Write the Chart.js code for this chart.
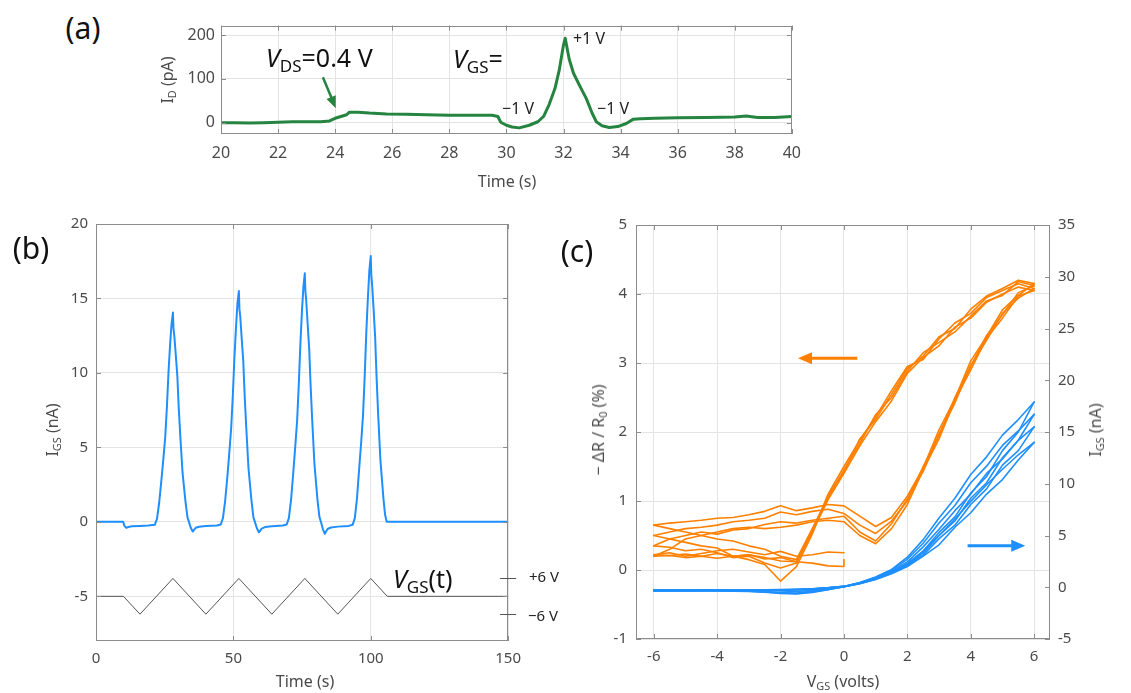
<!DOCTYPE html>
<html><head><meta charset="utf-8">
<script src="https://cdn.jsdelivr.net/npm/chart.js@4.4.1/dist/chart.umd.min.js"></script>
<style>
html,body{margin:0;padding:0;background:#fff;}
body{width:1131px;height:693px;position:relative;overflow:hidden;font-family:"Noto Sans",sans-serif;}
canvas{position:absolute;}
.t{position:absolute;white-space:nowrap;line-height:1;color:#4a4a4a;font-size:16px;}
.c{transform:translate(-50%,-50%);}
.l{transform:translate(0,-50%);}
.r{transform:translate(-50%,-50%) rotate(-90deg);}
sub{font-size:0.68em;vertical-align:-0.32em;line-height:0;}
.big{font-size:30px;color:#111;}
.ann{font-size:25px;color:#111;}
.small{font-size:16px;color:#222;}
</style></head><body>
<canvas id="ca" width="650" height="160" style="left:161px;top:10px"></canvas>
<canvas id="cb" width="484" height="470" style="left:46px;top:207px"></canvas>
<canvas id="cc" width="510" height="470" style="left:586px;top:207px"></canvas>

<div class="t big c" style="left:83px;top:28px">(a)</div>
<div class="t big c" style="left:31px;top:248px">(b)</div>
<div class="t big c" style="left:577px;top:251px">(c)</div>

<div class="t c" style="left:507px;top:181px">Time (s)</div>
<div class="t r" style="left:167px;top:80px">I<sub>D</sub> (pA)</div>
<div class="t ann l" style="left:266px;top:57px"><i>V</i><sub>DS</sub>=0.4 V</div>
<div class="t ann l" style="left:453px;top:58px"><i>V</i><sub>GS</sub>=</div>
<div class="t small l" style="left:573px;top:38px">+1 V</div>
<div class="t small l" style="left:502px;top:108px">−1 V</div>
<div class="t small l" style="left:597px;top:108px">−1 V</div>

<div class="t c" style="left:305px;top:681px">Time (s)</div>
<div class="t r" style="left:52px;top:430px">I<sub>GS</sub> (nA)</div>
<div class="t ann l" style="left:393px;top:578px"><i>V</i><sub>GS</sub>(t)</div>
<div class="t l" style="left:529px;top:576px;color:#222;font-size:15px">+6 V</div>
<div class="t l" style="left:528px;top:615px;color:#222;font-size:15px">−6 V</div>

<div class="t c" style="left:843px;top:681px">V<sub>GS</sub> (volts)</div>
<div class="t r" style="left:598px;top:430px">− ΔR / R<sub>0</sub> (%)</div>
<div class="t r" style="left:1095px;top:430px">I<sub>GS</sub> (nA)</div>

<script>
// ---------- Panel (a) data ----------
const tA = [20,20.5,21,21.5,22,22.5,23,23.5,23.8,24.0,24.2,24.4,24.5,24.8,25.2,25.8,26.5,27.2,28,28.8,
            29.5,29.7,29.8,30.0,30.2,30.45,30.8,31.1,31.3,31.5,31.7,31.85,32.0,32.06,32.2,32.35,32.6,32.8,33.0,33.15,
            33.35,33.6,33.9,34.2,34.45,34.7,35.2,36,37,38,38.4,38.8,39.4,40];
const iA = [0,0,-1,0,1,2,2,2,4,10,14,18,24,24,22,20,19,18,17,17,
            17,14,1,-6,-10,-12,-6,2,14,42,78,120,178,193,145,113,80,55,22,2,
            -7,-11,-9,-2,8,9,10,11,12,13,15,12,12,14];
const xTicksA = [20,22,24,26,28,30,32,34,36,38,40];
const yTicksA = [0,100,200];

// ---------- Panel (b) data ----------
const tB = [0,9.9,10.3,11,11.8,13,16,19,
  21.4,22.2,23,23.8,24.5,25.2,25.8,26.4,27,27.5,28,28.2,28.5,29,29.6,30.1,30.7,31.5,32.6,33.3,34,34.5,35.2,35.6,36.3,37.5,40,44,
  45.4,46.2,47,47.8,48.5,49.2,49.8,50.4,51,51.5,52,52.2,52.5,53,53.6,54.1,54.7,55.5,56.6,57.3,58,58.6,59.3,59.7,60.3,61.5,64,68,
  69.4,70.2,71,71.8,72.5,73.2,73.8,74.4,75,75.5,76,76.2,76.5,77,77.6,78.1,78.7,79.5,80.6,81.3,82,82.6,83.3,83.7,84.3,85.5,88,92,
  93.4,94.2,95,95.8,96.5,97.2,97.8,98.4,99,99.5,100,100.2,100.5,101,101.6,102.1,102.7,103.5,104.6,105.2,105.8,150];
const iB = [0,0,-0.25,-0.4,-0.35,-0.3,-0.28,-0.25,
  -0.2,0.2,1.3,2.8,4.2,5.7,7.7,10.1,12.0,13.3,14.05,13.0,12.5,11.3,9.8,7.7,5.7,3.3,1.3,0.3,-0.1,-0.4,-0.65,-0.55,-0.4,-0.33,-0.28,-0.24,
  -0.18,0.25,1.4,3.0,4.6,6.3,8.5,11.1,13.2,14.7,15.5,14.3,13.8,12.4,10.8,8.5,6.3,3.6,1.4,0.3,-0.1,-0.45,-0.7,-0.6,-0.45,-0.35,-0.3,-0.25,
  -0.18,0.25,1.5,3.3,5.0,6.8,9.2,12.0,14.3,15.8,16.7,15.5,14.9,13.4,11.6,9.2,6.8,3.9,1.5,0.35,-0.1,-0.5,-0.8,-0.65,-0.48,-0.38,-0.32,-0.27,
  -0.2,0.25,1.6,3.6,5.3,7.2,9.8,12.8,15.2,16.9,17.85,16.6,15.9,14.4,12.4,9.8,7.2,4.2,1.6,0.5,0,0];
const tVgs = [0,10,16,28,40,52,64,76,88,100,106,150];
const vgsB = [-5,-5,-6.2,-3.8,-6.2,-3.8,-6.2,-3.8,-6.2,-3.8,-5,-5];
const vgsMarks = [-3.8,-6.2];
const xTicksB = [0,50,100,150];
const yTicksB = [-5,0,5,10,15,20];

// ---------- Panel (c) data ----------
const vUp    = [-6,-5.5,-5,-4.5,-4,-3.5,-3,-2.5,-2,-1.5,-1,-0.5,0,0.5,1,1.5,2,2.5,3,3.5,4,4.5,5,5.5,6];
const vDn    = [6,5.5,5,4.5,4,3.5,3,2.5,2,1.5,1,0.5,0,-0.5,-1,-1.5,-2,-2.5,-3,-3.5,-4,-4.5,-5,-5.5,-6];
const vUpNeg = [-6,-5.5,-5,-4.5,-4,-3.5,-3,-2.5,-2,-1.5,-1,-0.5,0];
const vDnNeg = [0,-0.5,-1,-1.5,-2,-2.5,-3,-3.5,-4,-4.5,-5,-5.5,-6];
const vDnPos = [6,5.5,5,4.5,4,3.5,3,2.5,2,1.5,1,0.5,0];
const vStartO = [0,0,-0.5,-1,-1.5,-2,-2.5,-3,-3.5,-4,-4.5,-5,-5.5,-6];

const oStart = [0.15,0.05,0.06,0.1,0.12,0.18,0.16,0.22,0.2,0.17,0.2,0.18,0.21,0.2];
const oUp1 = [0.2,0.3,0.45,0.5,0.55,0.6,0.62,0.6,0.62,0.65,0.7,0.72,0.7,0.5,0.38,0.6,0.95,1.45,1.9,2.46,2.9,3.36,3.65,3.97,4.05];
const oDn1 = [4.05,4.1,4.0,3.88,3.65,3.52,3.25,3.08,2.85,2.45,2.15,1.8,1.4,1.02,0.55,0.1,0.03,0.1,0.2,0.18,0.25,0.3,0.28,0.33,0.35];
const oUp2 = [0.35,0.45,0.5,0.55,0.52,0.58,0.6,0.66,0.7,0.68,0.72,0.75,0.78,0.55,0.42,0.67,1.03,1.43,1.97,2.42,2.97,3.33,3.72,3.94,4.08];
const oDn2 = [4.08,4.15,4.05,3.95,3.72,3.58,3.35,3.05,2.95,2.6,2.22,1.88,1.5,1.1,0.52,0.05,-0.16,0.08,0.15,0.2,0.32,0.35,0.4,0.45,0.5];
const oUp3 = [0.5,0.55,0.6,0.62,0.65,0.7,0.72,0.75,0.84,0.8,0.85,0.88,0.82,0.65,0.53,0.71,1.0,1.5,1.95,2.5,2.95,3.4,3.7,4.02,4.12];
const oDn3 = [4.12,4.18,3.98,3.9,3.68,3.45,3.3,3.15,2.88,2.5,2.25,1.83,1.45,1.05,0.6,0.15,0.2,0.3,0.35,0.42,0.45,0.5,0.55,0.6,0.65];
const oUp4 = [0.65,0.68,0.7,0.72,0.75,0.76,0.8,0.85,0.93,0.86,0.9,0.95,0.93,0.78,0.63,0.76,1.07,1.48,2.03,2.48,3.03,3.38,3.77,3.98,4.15];
const oDn4 = [4.15,4.2,4.08,3.97,3.78,3.5,3.38,3.1,2.92,2.55,2.18,1.9,1.42,1.08,0.58,0.12,0.13,0.18,0.22,0.2,0.24,0.2,0.23,0.21,0.22];
const oUp5 = [0.22,0.25,0.2,0.24,0.28,0.3,0.26,0.22,0.27,0.2,0.22,0.26,0.25];

const bStart = [0.05,-0.15,-0.3,-0.4,-0.35,-0.3,-0.28,-0.27,-0.27,-0.26,-0.26,-0.26,-0.26];
const bUp1 = [-0.26,-0.26,-0.26,-0.26,-0.25,-0.25,-0.24,-0.24,-0.22,-0.2,-0.15,-0.05,0.08,0.4,0.85,1.5,2.2,3.5,5.0,6.6,8.3,9.9,11.4,12.8,14.0];
const bDn1 = [14.0,12.3,10.4,9.0,7.2,5.8,4.1,3.0,2.0,1.3,0.75,0.35,0.05,-0.2,-0.4,-0.55,-0.5,-0.42,-0.36,-0.33,-0.31,-0.3,-0.3,-0.3,-0.3];
const bUp2 = [-0.3,-0.3,-0.29,-0.28,-0.28,-0.27,-0.27,-0.26,-0.25,-0.22,-0.16,-0.05,0.08,0.42,0.9,1.6,2.45,3.9,5.6,7.4,9.0,11.0,12.4,14.2,15.5];
const bDn2 = [15.5,13.2,11.8,9.5,8.0,6.0,4.7,3.1,2.1,1.35,0.78,0.36,0.05,-0.22,-0.45,-0.6,-0.55,-0.45,-0.38,-0.35,-0.33,-0.32,-0.32,-0.32,-0.32];
const bUp3 = [-0.32,-0.32,-0.31,-0.3,-0.3,-0.29,-0.28,-0.27,-0.26,-0.23,-0.17,-0.05,0.08,0.44,0.95,1.7,2.7,4.25,6.2,7.9,10.1,11.7,13.7,15.1,16.7];
const bDn3 = [16.7,14.2,12.5,10.1,8.6,6.4,5.0,3.3,2.2,1.4,0.8,0.37,0.05,-0.24,-0.5,-0.65,-0.6,-0.48,-0.4,-0.37,-0.36,-0.35,-0.35,-0.35,-0.35];
const bUp4 = [-0.35,-0.34,-0.33,-0.33,-0.32,-0.31,-0.3,-0.29,-0.27,-0.24,-0.17,-0.05,0.08,0.46,1.0,1.7,2.9,4.6,6.7,8.6,10.9,12.6,14.7,16.2,17.9];
const bEnd = [17.9,15.0,13.2,10.7,9.1,6.8,5.3,3.5,2.3,1.45,0.82,0.38,0.05];

const xTicksC = [-6,-4,-2,0,2,4,6];
const yTicksC = [-1,0,1,2,3,4,5];
const y2TicksC = [-5,0,5,10,15,20,25,30,35];

// ---------- helpers ----------
Chart.defaults.font.family = '"Noto Sans", sans-serif';
Chart.defaults.font.size = 15;
Chart.defaults.color = '#4a4a4a';

const GREEN = '#25843f', BLUE = '#1e8fff', ORANGE = '#ff8000';

function xy(xs, ys) { return xs.map((x, i) => ({ x: x, y: ys[i] })); }
function line(xs, ys, color, w, axis) {
  const d = { data: xy(xs, ys), showLine: true, borderColor: color, backgroundColor: color,
    borderWidth: w, pointRadius: 0, tension: 0, borderJoinStyle: 'round', borderCapStyle: 'round' };
  if (axis) d.yAxisID = axis;
  return d;
}
function axis(o) {
  const horiz = (o.pos === 'bottom' || o.pos === 'top');
  return {
    type: 'linear', position: o.pos, min: o.min, max: o.max,
    afterBuildTicks: s => { s.ticks = o.ticks.map(v => ({ value: v })); },
    afterFit: s => { if (horiz) s.height = o.size; else s.width = o.size; },
    grid: { display: o.grid !== false, color: '#e4e4e4', lineWidth: 1, drawTicks: false },
    border: { display: false },
    ticks: { padding: o.pad, color: '#4a4a4a', font: { size: o.font || 15 }, maxRotation: 0, autoSkip: false }
  };
}

const framePlugin = {
  id: 'frame',
  afterDraw(chart) {
    const ctx = chart.ctx, a = chart.chartArea, scales = chart.scales;
    const dual = !!scales.y2;
    ctx.save();
    ctx.strokeStyle = '#8c8c8c'; ctx.lineWidth = 1;
    ctx.beginPath();
    const L = 5;
    for (const id of Object.keys(scales)) {
      const s = scales[id];
      for (const t of s.ticks) {
        const p = Math.round(s.getPixelForValue(t.value)) + 0.5;
        if (s.isHorizontal()) {
          ctx.moveTo(p, a.bottom); ctx.lineTo(p, a.bottom - L);
          ctx.moveTo(p, a.top); ctx.lineTo(p, a.top + L);
        } else if (s.position === 'right') {
          ctx.moveTo(a.right, p); ctx.lineTo(a.right - L, p);
        } else {
          ctx.moveTo(a.left, p); ctx.lineTo(a.left + L, p);
          if (!dual) { ctx.moveTo(a.right, p); ctx.lineTo(a.right - L, p); }
        }
      }
    }
    ctx.stroke();
    ctx.strokeRect(Math.round(a.left) + 0.5, Math.round(a.top) + 0.5,
      Math.round(a.right - a.left) - 1, Math.round(a.bottom - a.top) - 1);
    ctx.restore();
  }
};

const arrowPlugin = {
  id: 'arrows',
  afterDatasetsDraw(chart, args, opts) {
    const items = (opts && opts.items) || [];
    const ctx = chart.ctx;
    for (const a of items) {
      const xs = chart.scales.x, ys = chart.scales[a.axis || 'y'];
      const x1 = xs.getPixelForValue(a.x1), y1 = ys.getPixelForValue(a.y1);
      const x2 = xs.getPixelForValue(a.x2), y2 = ys.getPixelForValue(a.y2);
      const ang = Math.atan2(y2 - y1, x2 - x1);
      const hl = a.head, hw = a.headW;
      const c = Math.cos(ang), s = Math.sin(ang);
      ctx.save();
      ctx.strokeStyle = a.color; ctx.fillStyle = a.color; ctx.lineWidth = a.width;
      ctx.beginPath(); ctx.moveTo(x1, y1); ctx.lineTo(x2 - c * hl * 0.8, y2 - s * hl * 0.8); ctx.stroke();
      ctx.beginPath(); ctx.moveTo(x2, y2);
      ctx.lineTo(x2 - c * hl + s * hw, y2 - s * hl - c * hw);
      ctx.lineTo(x2 - c * hl - s * hw, y2 - s * hl + c * hw);
      ctx.closePath(); ctx.fill();
      ctx.restore();
    }
  }
};

const marksPlugin = {
  id: 'marks',
  afterDraw(chart, args, opts) {
    const vals = (opts && opts.values) || [];
    if (!vals.length) return;
    const ctx = chart.ctx, a = chart.chartArea, ys = chart.scales.y;
    ctx.save(); ctx.strokeStyle = '#555'; ctx.lineWidth = 1;
    ctx.beginPath();
    for (const v of vals) {
      const p = Math.round(ys.getPixelForValue(v)) + 0.5;
      ctx.moveTo(a.right - 8, p); ctx.lineTo(a.right + 8, p);
    }
    ctx.stroke(); ctx.restore();
  }
};

const common = {
  responsive: false, animation: false, devicePixelRatio: 1,
  plugins: { legend: { display: false }, tooltip: { enabled: false } },
  events: []
};

// ---------- Panel (a) ----------
new Chart(document.getElementById('ca'), {
  type: 'scatter',
  data: { datasets: [ line(tA, iA, GREEN, 3) ] },
  options: Object.assign({}, common, {
    layout: { padding: { top: 10, right: 14, left: 0, bottom: 0 } },
    scales: {
      x: axis({ pos: 'bottom', min: 20, max: 40, ticks: xTicksA, size: 36, pad: 10, font: 16 }),
      y: axis({ pos: 'left', min: -26, max: 222, ticks: yTicksA, size: 60, pad: 6, font: 16 })
    },
    plugins: Object.assign({}, common.plugins, {
      arrows: { items: [ { x1: 23.57, y1: 104, x2: 24.02, y2: 33, color: GREEN, width: 2.5, head: 12, headW: 5 } ] }
    })
  }),
  plugins: [framePlugin, arrowPlugin]
});

// ---------- Panel (b) ----------
new Chart(document.getElementById('cb'), {
  type: 'scatter',
  data: { datasets: [
    line(tVgs, vgsB, '#555555', 1),
    line(tB, iB, BLUE, 2)
  ] },
  options: Object.assign({}, common, {
    layout: { padding: { top: 10, right: 15, left: 0, bottom: 0 } },
    scales: {
      x: axis({ pos: 'bottom', min: 0, max: 150, ticks: xTicksB, size: 36, pad: 9 }),
      y: axis({ pos: 'left', min: -8, max: 20, ticks: yTicksB, size: 50, pad: 8 })
    },
    plugins: Object.assign({}, common.plugins, { marks: { values: vgsMarks } })
  }),
  plugins: [framePlugin, marksPlugin]
});

// ---------- Panel (c) ----------
new Chart(document.getElementById('cc'), {
  type: 'scatter',
  data: { datasets: [
    line(vDnNeg, bStart, BLUE, 1.6, 'y2'),
    line(vUp, bUp1, BLUE, 1.6, 'y2'), line(vDn, bDn1, BLUE, 1.6, 'y2'),
    line(vUp, bUp2, BLUE, 1.6, 'y2'), line(vDn, bDn2, BLUE, 1.6, 'y2'),
    line(vUp, bUp3, BLUE, 1.6, 'y2'), line(vDn, bDn3, BLUE, 1.6, 'y2'),
    line(vUp, bUp4, BLUE, 1.6, 'y2'), line(vDnPos, bEnd, BLUE, 1.6, 'y2'),
    line(vStartO, oStart, ORANGE, 1.6, 'y'),
    line(vUp, oUp1, ORANGE, 1.6, 'y'), line(vDn, oDn1, ORANGE, 1.6, 'y'),
    line(vUp, oUp2, ORANGE, 1.6, 'y'), line(vDn, oDn2, ORANGE, 1.6, 'y'),
    line(vUp, oUp3, ORANGE, 1.6, 'y'), line(vDn, oDn3, ORANGE, 1.6, 'y'),
    line(vUp, oUp4, ORANGE, 1.6, 'y'), line(vDn, oDn4, ORANGE, 1.6, 'y'),
    line(vUpNeg, oUp5, ORANGE, 1.6, 'y')
  ] },
  options: Object.assign({}, common, {
    layout: { padding: { top: 10, right: 0, left: 0, bottom: 0 } },
    scales: {
      x: axis({ pos: 'bottom', min: -6.56, max: 6.5, ticks: xTicksC, size: 38, pad: 9 }),
      y: axis({ pos: 'left', min: -1, max: 5, ticks: yTicksC, size: 50, pad: 9 }),
      y2: axis({ pos: 'right', min: -5, max: 35, ticks: y2TicksC, size: 46, pad: 8, grid: false })
    },
    plugins: Object.assign({}, common.plugins, {
      arrows: { items: [
        { x1: 0.42, y1: 3.07, x2: -1.45, y2: 3.07, axis: 'y', color: ORANGE, width: 3, head: 14, headW: 6 },
        { x1: 3.9, y1: 4.0, x2: 5.72, y2: 4.0, axis: 'y2', color: BLUE, width: 3, head: 14, headW: 6 }
      ] }
    })
  }),
  plugins: [framePlugin, arrowPlugin]
});
</script>
</body></html>
